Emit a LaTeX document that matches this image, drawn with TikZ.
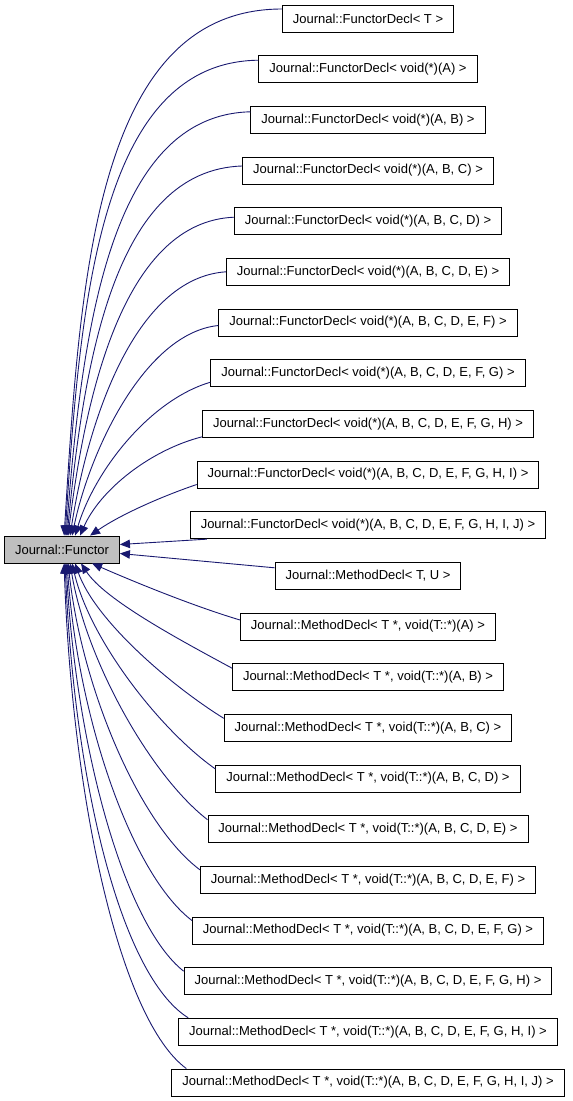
\documentclass[tikz,border=0pt]{standalone}
\usepackage{fontspec}
\setmainfont{Liberation Sans}
\usetikzlibrary{arrows.meta,calc}
\definecolor{edgeblue}{HTML}{191970}
\definecolor{basegray}{HTML}{BFBFBF}
\tikzset{
  cls/.style={draw=black, line width=0.9pt, fill=white, inner xsep=10.5pt, inner ysep=0pt,
    minimum height=27pt, font=\fontsize{13}{15}\selectfont, anchor=center},
  basecls/.style={cls, fill=basegray},
  edge/.style={draw=edgeblue, line width=0.9pt, -{Triangle[length=10pt,width=8.5pt]}}
}
\begin{document}
\begin{tikzpicture}[x=1pt,y=-1pt]
\useasboundingbox (0,0) rectangle (573,1101);
\node[basecls] (f) at (62,549.5) {Journal::Functor};
\node[cls] (b1) at (368,18.5) {Journal::FunctorDecl< T >};
\node[cls] (b2) at (368,69.2) {Journal::FunctorDecl< void(*)(A) >};
\node[cls] (b3) at (368,119.8) {Journal::FunctorDecl< void(*)(A, B) >};
\node[cls] (b4) at (368,170.5) {Journal::FunctorDecl< void(*)(A, B, C) >};
\node[cls] (b5) at (368,221.2) {Journal::FunctorDecl< void(*)(A, B, C, D) >};
\node[cls] (b6) at (368,271.8) {Journal::FunctorDecl< void(*)(A, B, C, D, E) >};
\node[cls] (b7) at (368,322.5) {Journal::FunctorDecl< void(*)(A, B, C, D, E, F) >};
\node[cls] (b8) at (368,373.2) {Journal::FunctorDecl< void(*)(A, B, C, D, E, F, G) >};
\node[cls] (b9) at (368,423.8) {Journal::FunctorDecl< void(*)(A, B, C, D, E, F, G, H) >};
\node[cls] (b10) at (368,474.5) {Journal::FunctorDecl< void(*)(A, B, C, D, E, F, G, H, I) >};
\node[cls] (b11) at (368,525.2) {Journal::FunctorDecl< void(*)(A, B, C, D, E, F, G, H, I, J) >};
\node[cls] (b12) at (368,575.8) {Journal::MethodDecl< T, U >};
\node[cls] (b13) at (368,626.5) {Journal::MethodDecl< T *, void(T::*)(A) >};
\node[cls] (b14) at (368,677.2) {Journal::MethodDecl< T *, void(T::*)(A, B) >};
\node[cls] (b15) at (368,727.8) {Journal::MethodDecl< T *, void(T::*)(A, B, C) >};
\node[cls] (b16) at (368,778.5) {Journal::MethodDecl< T *, void(T::*)(A, B, C, D) >};
\node[cls] (b17) at (368,829.2) {Journal::MethodDecl< T *, void(T::*)(A, B, C, D, E) >};
\node[cls] (b18) at (368,879.8) {Journal::MethodDecl< T *, void(T::*)(A, B, C, D, E, F) >};
\node[cls] (b19) at (368,930.5) {Journal::MethodDecl< T *, void(T::*)(A, B, C, D, E, F, G) >};
\node[cls] (b20) at (368,981.2) {Journal::MethodDecl< T *, void(T::*)(A, B, C, D, E, F, G, H) >};
\node[cls] (b21) at (368,1031.8) {Journal::MethodDecl< T *, void(T::*)(A, B, C, D, E, F, G, H, I) >};
\node[cls] (b22) at (368,1082.5) {Journal::MethodDecl< T *, void(T::*)(A, B, C, D, E, F, G, H, I, J) >};
% upper edges
\draw[edge] ($(b1.west)+(0,-9.5)$) .. controls (95,9) and (80,280) .. ($(f.north west)+(60,0)$);
\draw[edge] ($(b2.west)+(0,-9)$) .. controls (100,62) and (80,300) .. ($(f.north west)+(61,0)$);
\draw[edge] ($(b3.west)+(0,-8)$) .. controls (110,115) and (82,330) .. ($(f.north west)+(62,0)$);
\draw[edge] ($(b4.west)+(0,-4.5)$) .. controls (115,170) and (84,360) .. ($(f.north west)+(63,0)$);
\draw[edge] ($(b5.west)+(0,-4)$) .. controls (125,222) and (86,390) .. ($(f.north west)+(64,0)$);
\draw[edge] ($(b6.west)+(0,0)$) .. controls (135,278) and (88,420) .. ($(f.north west)+(66,0)$);
\draw[edge] ($(b7.west)+(0,3)$) .. controls (145,333) and (90,450) .. ($(f.north west)+(68,0)$);
\draw[edge] ($(b8.west)+(0,9)$) .. controls (150,400) and (95,470) .. ($(f.north west)+(71,0)$);
\draw[edge] ($(b9.west)+(0,13)$) .. controls (150,450) and (100,490) .. ($(f.north west)+(76,0)$);
\draw[edge] ($(b10.west)+(0,10)$) .. controls (160,497) and (120,515) .. ($(f.north west)+(86,0)$);
\draw[edge] ($(b11.south west)+(17,0)$) -- ($(f.east)+(0,-5)$);
\draw[edge] ($(b12.west)+(0,-8)$) -- ($(f.east)+(0,4)$);
% lower edges
\draw[edge] ($(b13.west)+(0,-6.5)$) .. controls (190,605) and (130,580) .. ($(f.south west)+(88,0)$);
\draw[edge] ($(b14.west)+(0,-9)$) .. controls (180,640) and (105,600) .. ($(f.south west)+(77,0)$);
\draw[edge] ($(b15.west)+(0,-9.5)$) .. controls (170,685) and (95,620) .. ($(f.south west)+(71,0)$);
\draw[edge] ($(b16.west)+(0,-9.5)$) .. controls (160,730) and (90,640) .. ($(f.south west)+(68,0)$);
\draw[edge] ($(b17.west)+(0,-9.5)$) .. controls (150,775) and (86,660) .. ($(f.south west)+(66,0)$);
\draw[edge] ($(b18.west)+(0,-10)$) .. controls (140,825) and (82,690) .. ($(f.south west)+(64,0)$);
\draw[edge] ($(b19.west)+(0,-10)$) .. controls (132,875) and (78,720) .. ($(f.south west)+(63,0)$);
\draw[edge] ($(b20.west)+(0,-10)$) .. controls (125,925) and (76,750) .. ($(f.south west)+(62,0)$);
\draw[edge] ($(b21.north west)+(10,0)$) .. controls (120,975) and (74,780) .. ($(f.south west)+(61,0)$);
\draw[edge] ($(b22.north west)+(15,0)$) .. controls (120,1020) and (72,800) .. ($(f.south west)+(60,0)$);
\end{tikzpicture}
\end{document}
